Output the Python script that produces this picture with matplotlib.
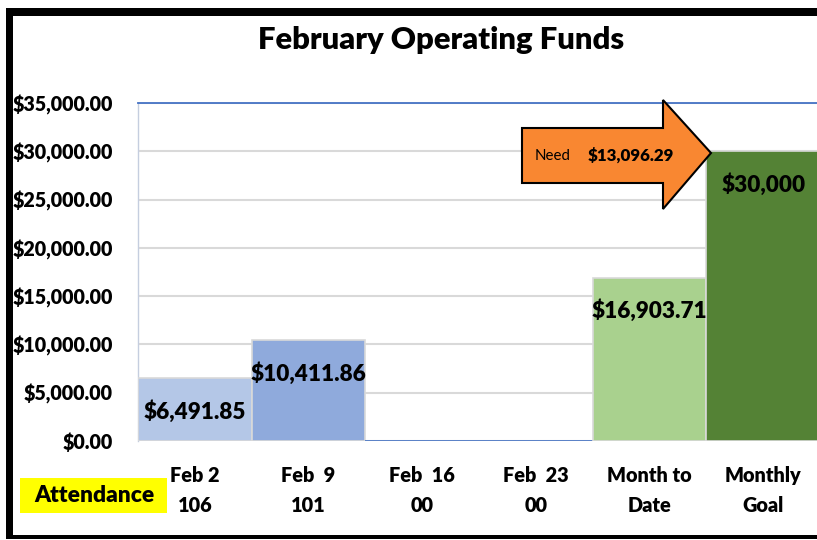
import matplotlib
matplotlib.use("Agg")
import matplotlib.pyplot as plt
from matplotlib.patches import Rectangle, Polygon
from matplotlib.ticker import FuncFormatter, MultipleLocator

plt.rcParams["font.family"] = ["Lato", "DejaVu Sans"]

# data
categories = ["Feb 2", "Feb  9", "Feb  16", "Feb  23", "Month to", "Monthly"]
attendance = ["106", "101", "00", "00", "Date", "Goal"]
values = [6491.85, 10411.86, 0, 0, 16903.71, 30000]
label_decimals = [2, 2, 2, 2, 2, 0]
colors = ["#B4C7E7", "#8FAADC", "#8FAADC", "#8FAADC", "#A9D18E", "#548235"]
need = 13096.29

W, H = 817, 540
BOLD = 800
fig = plt.figure(figsize=(W / 100, H / 100), dpi=100)
fig.patch.set_facecolor("white")


def px(x, y):
    # pixel position (from top-left) -> figure fraction
    return x / W, 1 - y / H


# plot area
ax = fig.add_axes([138 / W, 99 / H, 682 / W, 338 / H])
x = list(range(len(categories)))
edges = ["#4472C4" if v == 0 else "#D9D9D9" for v in values]
ax.bar(x, values, width=1.0, color=colors, edgecolor=edges, linewidth=1.2, zorder=3)

ax.set_xlim(-0.5, 5.5)
ax.set_ylim(0, 35000)
ax.yaxis.set_major_locator(MultipleLocator(5000))
ax.yaxis.set_major_formatter(FuncFormatter(lambda v, p: f"${v:,.2f}"))
ax.grid(axis="y", color="#D9D9D9", linewidth=1.5, zorder=0)
ax.set_axisbelow(True)

for side in ["right", "bottom"]:
    ax.spines[side].set_visible(False)
ax.spines["top"].set_color("#4472C4")
ax.spines["top"].set_linewidth(1.3)
ax.spines["left"].set_color("#C5CEDF")
ax.spines["left"].set_linewidth(1.0)

ax.tick_params(axis="both", length=0)
ax.tick_params(axis="y", pad=18, labelsize=14.1)
for t in ax.get_yticklabels():
    t.set_fontweight(BOLD)

ax.set_xticks(x)
ax.set_xticklabels([f"{c}\n{a}" for c, a in zip(categories, attendance)],
                   fontsize=14.3, fontweight=BOLD, linespacing=1.7)
ax.tick_params(axis="x", pad=18)

# data labels inside the bar tops
for xi, v, d in zip(x, values, label_decimals):
    if v == 0:
        continue
    ax.annotate(f"${v:,.{d}f}", (xi, v), xytext=(0, -24), textcoords="offset points",
                ha="center", va="center", fontsize=16.2, fontweight=BOLD, zorder=5)

# title
fig.text(*px(441, 40), "February Operating Funds", ha="center", va="center",
         fontsize=22.3, fontweight=BOLD)

# "Need" arrow
arrow_px = [(522, 128), (663, 128), (663, 100), (711, 153),
            (663, 209), (663, 183), (522, 183)]
fig.patches.append(Polygon([px(a, b) for a, b in arrow_px], closed=True,
                           transform=fig.transFigure, facecolor="#F98731",
                           edgecolor="black", linewidth=1.5, zorder=6))
fig.text(*px(553, 156), "Need", ha="center", va="center", fontsize=10.8, zorder=7)
fig.text(*px(631, 156), f"${need:,.2f}", ha="center", va="center",
         fontsize=12.2, fontweight=BOLD, zorder=7)

# attendance box
x0, y0 = px(20, 513)
fig.patches.append(Rectangle((x0, y0), 147 / W, 35 / H, transform=fig.transFigure,
                             facecolor="#FFFF00", edgecolor="none", zorder=1))
fig.text(*px(94, 496), "Attendance", ha="center", va="center",
         fontsize=16.4, fontweight=BOLD, zorder=2)

# outer black frame
for (fx, fy, fw, fh) in [(6, 8, 7, 531), (6, 8, W - 6, 8), (6, 535, W - 6, 4)]:
    bx, by = px(fx, fy + fh)
    fig.patches.append(Rectangle((bx, by), fw / W, fh / H, transform=fig.transFigure,
                                 facecolor="black", edgecolor="none", zorder=10))

fig.savefig("out.png", dpi=100)
